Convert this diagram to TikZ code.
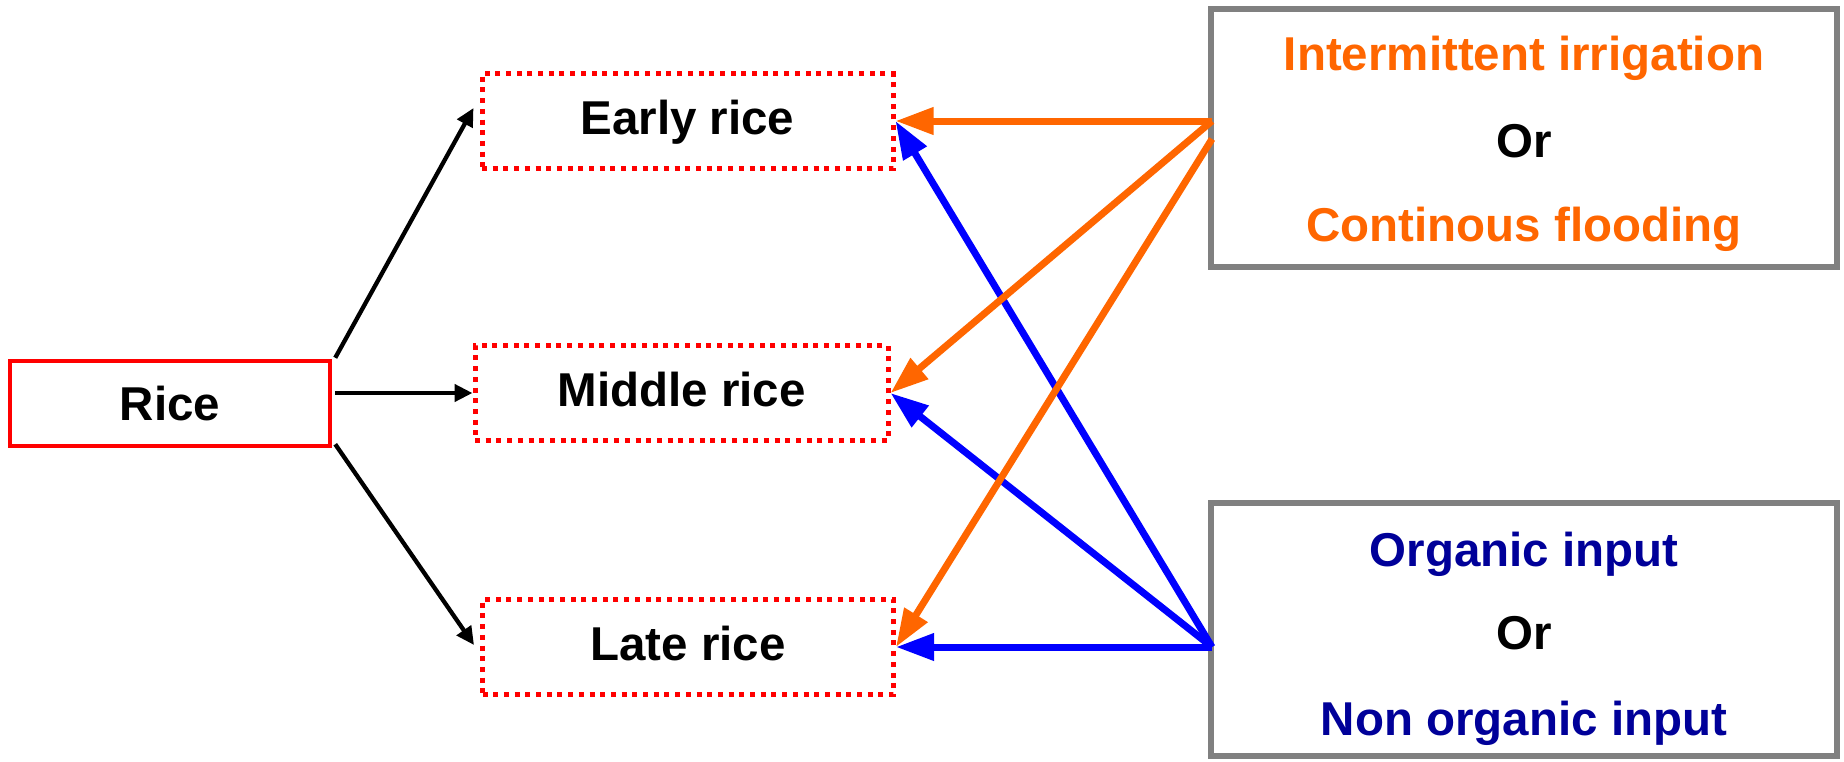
\documentclass[tikz,border=0pt]{standalone}
\usepackage{fontspec}
\setmainfont{Liberation Sans}
\usetikzlibrary{arrows.meta,calc}
\definecolor{orng}{RGB}{255,102,0}
\definecolor{navy}{RGB}{0,0,153}
\definecolor{grayb}{RGB}{128,128,128}
\definecolor{blu}{RGB}{0,0,255}
\tikzset{
  bigtext/.style={font=\fontsize{47.5}{56}\selectfont\bfseries},
  ricebox/.style={draw=red, line width=4.5pt, minimum width=320pt, minimum height=85pt, inner sep=0pt, bigtext, text height=33pt, text depth=0pt},
  stagebox/.style={draw=red, line width=5pt, dash pattern=on 5pt off 5.7pt, minimum width=411pt, minimum height=95pt, inner sep=0pt, bigtext, text height=26pt, text depth=0pt},
  factorbox/.style={draw=grayb, line width=6.5pt, minimum width=626pt, inner sep=0pt},
  factortext/.style={bigtext, anchor=base, inner sep=0pt},
  blackarrow/.style={draw=black, line width=4.3pt, -{Triangle[length=18pt,width=17pt]}},
  orangearrow/.style={draw=orng, line width=7pt, -{Triangle[length=38pt,width=26pt]}},
  bluearrow/.style={draw=blu, line width=7pt, -{Triangle[length=38pt,width=26pt]}}
}
\begin{document}
\begin{tikzpicture}[x=1pt,y=-1pt]
\useasboundingbox (0,0) rectangle (1844,761);
\fill[white] (0,0) rectangle (1844,761);

\node[ricebox] (rice) at (170,403.5) {Rice};
\node[stagebox] (early) at (687.5,121) {Early rice};
\node[stagebox, minimum width=413pt] (middle) at (681.5,393) {Middle rice};
\node[stagebox] (late) at (688,647) {Late rice};

\node[factorbox, minimum height=258pt] (irr) at (1524,138) {};
\node[factortext, text=orng] (irr1) at (1524,70.5) {Intermittent irrigation};
\node[factortext, text=black] (irr2) at (1524,157.5) {Or};
\node[factortext, text=orng] (irr3) at (1524,241) {Continous flooding};

\node[factorbox, minimum height=253pt] (inp) at (1524,629.5) {};
\node[factortext, text=navy] (inp1) at (1524,566) {Organic input};
\node[factortext, text=black] (inp2) at (1524,649) {Or};
\node[factortext, text=navy] (inp3) at (1524,735) {Non organic input};

\coordinate (oa) at (1212,121);
\coordinate (ob) at (1212,139);
\coordinate (ba) at (1212,647);
\coordinate (ea) at ($(early.west)+(-6,-13)$);
\coordinate (la) at ($(late.west)+(-6,-2)$);

\draw[blackarrow] ($(rice.north east)+(3,-1)$) -- (ea);
\draw[blackarrow] ($(rice.east |- middle.west)+(3,0)$) -- (middle.west);
\draw[blackarrow] ($(rice.south east)+(3,-4)$) -- (la);

\draw[bluearrow] (ba) -- (early.east);
\draw[bluearrow] (ba) -- (middle.east);
\draw[bluearrow] (ba) -- (late.east);

\draw[orangearrow] (oa) -- (early.east);
\draw[orangearrow] (oa) -- (middle.east);
\draw[orangearrow] (ob) -- (late.east);
\end{tikzpicture}
\end{document}
